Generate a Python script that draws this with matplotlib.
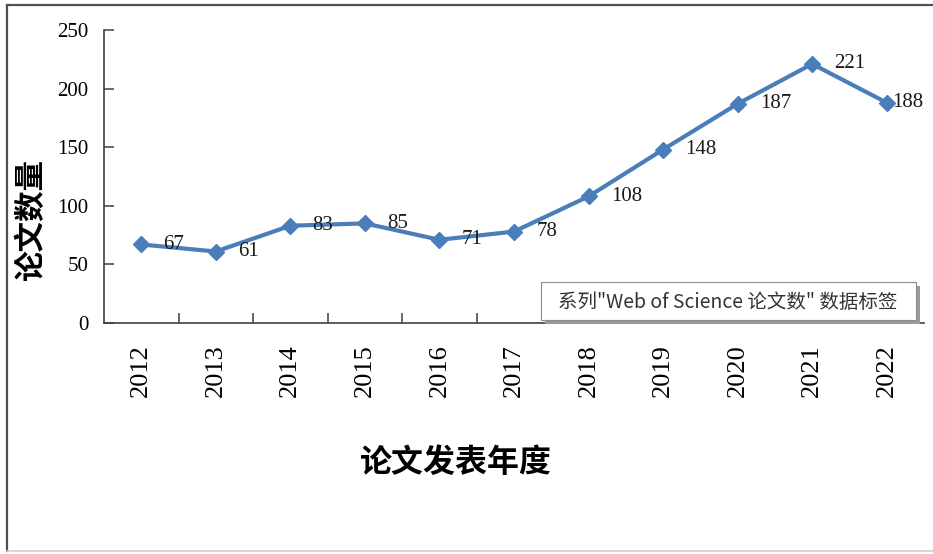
import numpy as np
import matplotlib
matplotlib.use("Agg")
import matplotlib.pyplot as plt
from matplotlib.lines import Line2D
from matplotlib.patches import Rectangle

# 数据
years = ["2012", "2013", "2014", "2015", "2016", "2017",
         "2018", "2019", "2020", "2021", "2022"]
papers = [67, 61, 83, 85, 71, 78, 108, 148, 187, 221, 188]

y_ticks = [0, 50, 100, 150, 200, 250]
x_title = "论文发表年度"
y_title = "论文数量"
tip_text = '系列"Web of Science 论文数" 数据标签'

line_color = "#4A7EBB"
axis_color = "#404040"
num_font = ["Liberation Serif", "DejaVu Serif"]
cjk_font = ["Noto Sans CJK SC", "DejaVu Sans"]

W, H = 933, 554
fig = plt.figure(figsize=(W / 100, H / 100), dpi=100)
fig.patch.set_facecolor("white")

# 绘图区域 (像素换算成比例)
ax = fig.add_axes([104 / W, 1 - 323 / H, 820 / W, 293 / H])

x = np.arange(len(years))
ax.plot(x, papers, color=line_color, lw=3, marker="D", markersize=8.5,
        markerfacecolor=line_color, markeredgecolor=line_color,
        solid_joinstyle="round", zorder=3)

# 数据标签 (最后一个靠近边缘，偏移小一些)
for xi, v in zip(x, papers):
    dx = 4 if xi == len(years) - 1 else 16
    ax.annotate(str(v), (xi, v), xytext=(dx, 0), textcoords="offset points",
                ha="left", va="center", fontsize=15, family=num_font,
                color="#1a1a1a", annotation_clip=False)

ax.set_xlim(-0.5, len(years) - 0.5)
ax.set_ylim(0, 250)

# 坐标轴样式
for s in ["top", "right"]:
    ax.spines[s].set_visible(False)
for s in ["left", "bottom"]:
    ax.spines[s].set_color(axis_color)
    ax.spines[s].set_linewidth(1.2)

ax.set_yticks(y_ticks)
ax.set_yticklabels([str(t) for t in y_ticks], family=num_font, fontsize=15)
ax.tick_params(axis="y", direction="in", length=7, width=1.1,
               color=axis_color, pad=11)

# x 轴：刻度线在类别之间，标签在类别中心
ax.set_xticks(np.arange(0.5, len(years) - 0.5, 1.0))
ax.set_xticklabels([])
ax.tick_params(axis="x", which="major", direction="in", length=7, width=1.1,
               color=axis_color)
ax.set_xticks(x, minor=True)
ax.set_xticklabels(years, minor=True, rotation=90, family=num_font,
                   fontsize=19)
ax.tick_params(axis="x", which="minor", length=0, pad=15)

# 轴标题
fig.text(31 / W, 1 - 220 / H, y_title, rotation=90, ha="center", va="center",
         family=cjk_font, fontsize=22, fontweight="bold")
fig.text(456 / W, 1 - 463 / H, x_title, ha="center", va="center",
         family=cjk_font, fontsize=23, fontweight="bold")

# 提示框 (带阴影)
def px_rect(x0, y0, x1, y1, **kw):
    return Rectangle((x0 / W, 1 - y1 / H), (x1 - x0) / W, (y1 - y0) / H,
                     transform=fig.transFigure, **kw)

fig.add_artist(px_rect(545, 286, 920, 324, facecolor="#9a9a9a",
                       edgecolor="none", zorder=4))
fig.add_artist(px_rect(541, 282, 916, 320, facecolor="white",
                       edgecolor="#8c8c8c", linewidth=0.8, zorder=5))
fig.text(728 / W, 1 - 302 / H, tip_text, ha="center", va="center",
         family=cjk_font, fontsize=14, color="#333333", zorder=6)

# 外框
fig.add_artist(Line2D([6.5 / W, 6.5 / W], [1 - 5 / H, 1 - 551 / H],
                      transform=fig.transFigure, color="#505050", lw=1.6))
fig.add_artist(Line2D([6.5 / W, 1], [1 - 5 / H, 1 - 5 / H],
                      transform=fig.transFigure, color="#505050", lw=1.6))
fig.add_artist(Line2D([6.5 / W, 1], [1 - 551 / H, 1 - 551 / H],
                      transform=fig.transFigure, color="#d0d0d0", lw=1.2))

fig.savefig("out.png", dpi=100, facecolor="white")
